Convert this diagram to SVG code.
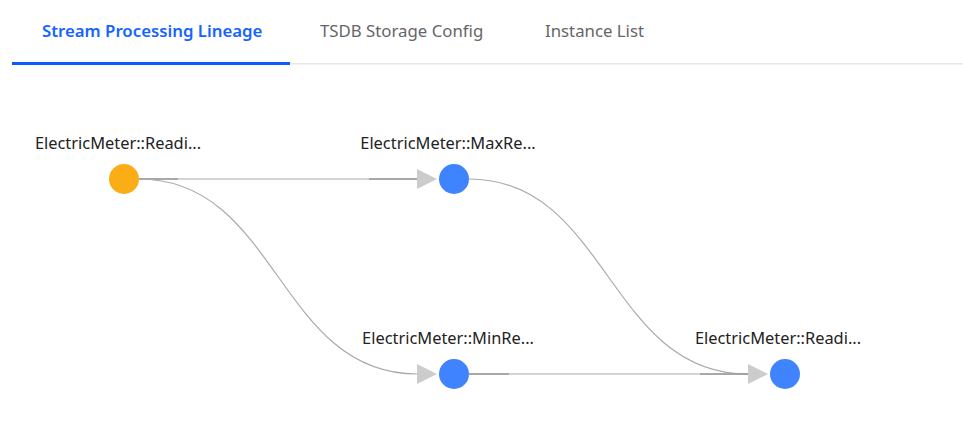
<svg xmlns="http://www.w3.org/2000/svg" width="963" height="424" viewBox="0 0 963 424">
<style>
.tab{font-family:"Noto Sans","Open Sans",sans-serif;font-size:16.8px;}
.lbl{font-family:"Noto Sans","Open Sans",sans-serif;font-size:16.4px;fill:#222;text-anchor:middle;}
.edge{fill:none;stroke:#aaa;stroke-width:1.2;}
.edge-d{fill:none;stroke:#999;stroke-width:1.6;}
.arrow{fill:#ccc;}
</style>
<rect width="963" height="424" fill="#fff"/>
<g id="tabs">
<text class="tab" x="42" y="37" fill="#1664ff" font-weight="600" font-size="16.6">Stream Processing Lineage</text>
<text class="tab" x="320" y="37" fill="#666">TSDB Storage Config</text>
<text class="tab" x="545" y="37" fill="#666" font-size="16.5">Instance List</text>
<rect x="290" y="63" width="673" height="1.5" fill="#e8e8e8"/>
<rect x="12" y="62" width="278" height="3" fill="#0a5cff"/>
</g>
<g id="connectors">
<path class="edge" d="M139,179 L417,179"/>
<path class="edge-d" d="M139,179 L178,179 M369,179 L417,179"/>
<polygon class="arrow" points="417,169 437,179 417,189"/>
<path class="edge" d="M139,179 C278,179 278,374 417,374"/>
<polygon class="arrow" points="417,364 437,374 417,384"/>
<path class="edge" d="M469,179 C608,179 608,374 748,374"/>
<path class="edge" d="M469,374 L748,374"/>
<path class="edge-d" d="M469,374 L509,374 M700,374 L748,374"/>
<polygon class="arrow" points="748,364 768,374 748,384"/>
</g>
<g id="node-src">
<circle cx="124" cy="179" r="15" fill="#faad14"/>
<text class="lbl" x="118" y="149">ElectricMeter::Readi...</text>
</g>
<g id="node-max">
<circle cx="454" cy="179" r="15" fill="#3f83ff"/>
<text class="lbl" x="448" y="149">ElectricMeter::MaxRe...</text>
</g>
<g id="node-min">
<circle cx="454" cy="374" r="15" fill="#3f83ff"/>
<text class="lbl" x="448" y="344">ElectricMeter::MinRe...</text>
</g>
<g id="node-out">
<circle cx="785" cy="374" r="15" fill="#3f83ff"/>
<text class="lbl" x="778" y="344">ElectricMeter::Readi...</text>
</g>
</svg>
